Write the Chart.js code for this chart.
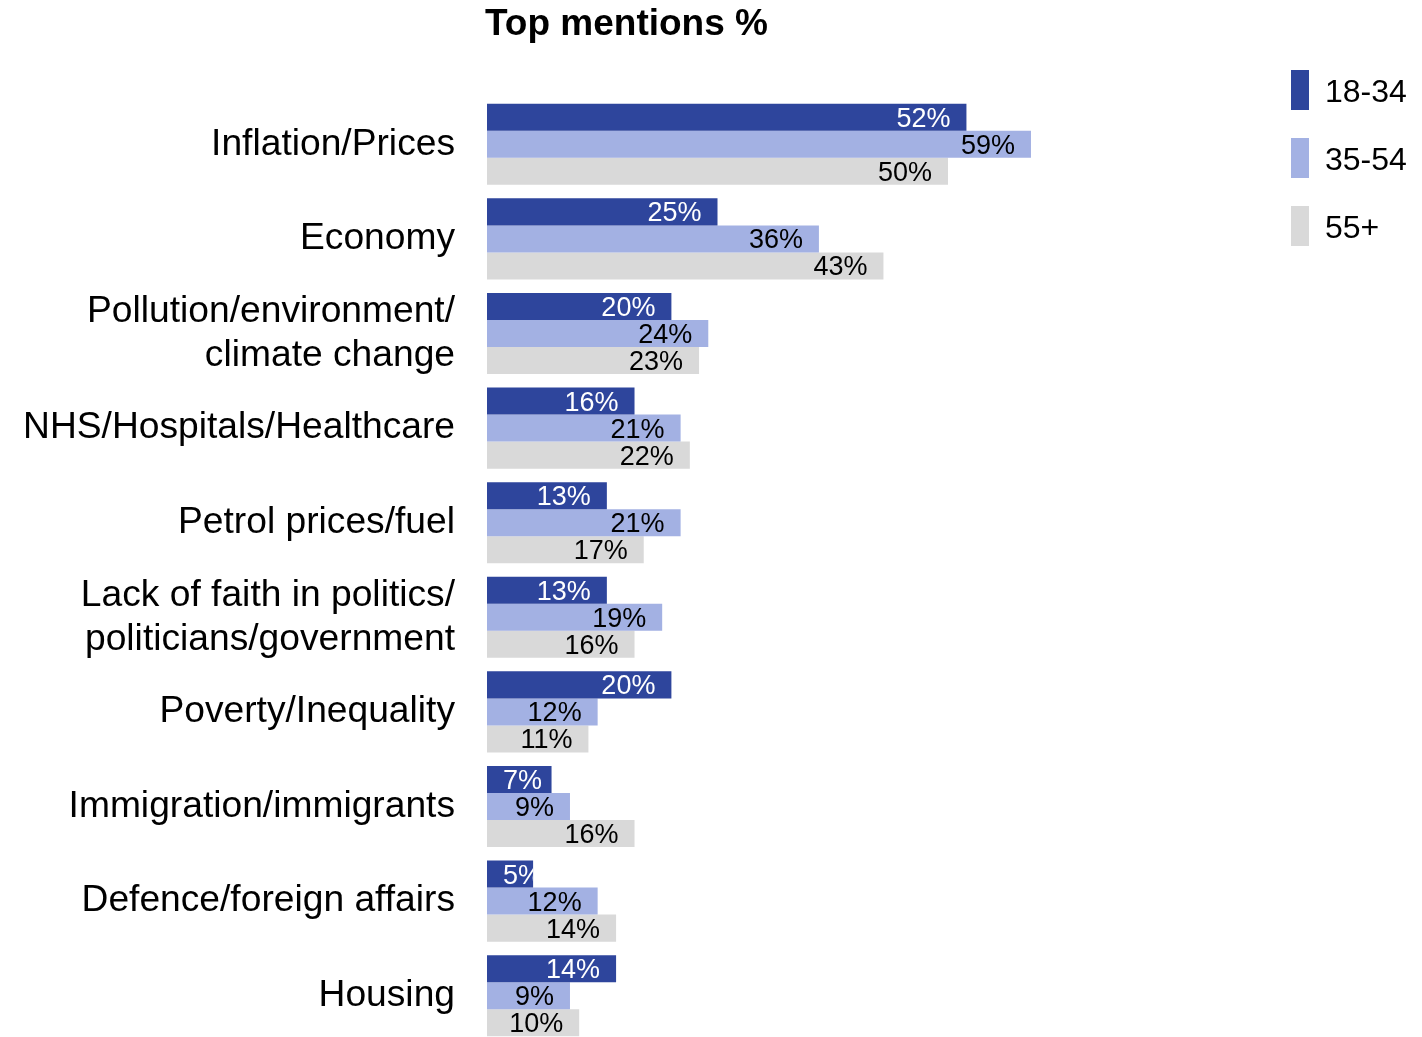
<!DOCTYPE html>
<html>
<head>
<meta charset="utf-8">
<script src="https://cdn.jsdelivr.net/npm/chart.js@4/dist/chart.umd.min.js"></script>
<style>
  html, body { margin: 0; background: #fff; overflow: hidden; height: 1037px; }
</style>
</head>
<body>
<canvas id="myChart" width="1422" height="1043"></canvas>
<script>
const categories = [
    "Inflation/Prices",
    "Economy",
    ["Pollution/environment/", "climate change"],
    "NHS/Hospitals/Healthcare",
    "Petrol prices/fuel",
    ["Lack of faith in politics/", "politicians/government"],
    "Poverty/Inequality",
    "Immigration/immigrants",
    "Defence/foreign affairs",
    "Housing"
];
const seriesNames = ["18-34", "35-54", "55+"];
const young = [52, 25, 20, 16, 13, 13, 20, 7, 5, 14];
const middle = [59, 36, 24, 21, 21, 19, 12, 9, 12, 9];
const older = [50, 43, 23, 22, 17, 16, 11, 16, 14, 10];
const barColors = ["#2E459C", "#A3B1E3", "#D9D9D9"];
const chartTitle = "Top mentions %";

const FONT = "'Liberation Sans', Arial, sans-serif";

// title, legend and value labels drawn by hand
const extras = {
    id: "extras",
    afterDatasetsDraw(chart) {
        const ctx = chart.ctx;
        ctx.save();

        // value labels, clipped to their bar
        ctx.font = "27px " + FONT;
        ctx.textBaseline = "middle";
        ctx.textAlign = "right";
        chart.data.datasets.forEach((ds, i) => {
            const meta = chart.getDatasetMeta(i);
            meta.data.forEach((bar, j) => {
                const txt = ds.data[j] + "%";
                const w = ctx.measureText(txt).width;
                const right = Math.max(bar.x - 16, bar.base + 16 + w);
                ctx.save();
                ctx.beginPath();
                ctx.rect(bar.base, bar.y - bar.height / 2, bar.x - bar.base, bar.height);
                ctx.clip();
                ctx.fillStyle = i === 0 ? "#ffffff" : "#000000";
                ctx.fillText(txt, right, bar.y + 2);
                ctx.restore();
            });
        });

        // title
        ctx.fillStyle = "#000";
        ctx.textAlign = "left";
        ctx.textBaseline = "alphabetic";
        ctx.font = "bold 37px " + FONT;
        ctx.fillText(chartTitle, 485, 35);

        // legend
        ctx.font = "32px " + FONT;
        chart.data.datasets.forEach((ds, i) => {
            const y = 70 + i * 68;
            ctx.fillStyle = ds.backgroundColor;
            ctx.fillRect(1291, y, 18, 40);
            ctx.fillStyle = "#000";
            ctx.fillText(ds.label, 1325, y + 32);
        });

        ctx.restore();
    }
};

new Chart("myChart", {
    type: "bar",
    data: {
        labels: categories,
        datasets: [
            { label: seriesNames[0], data: young, backgroundColor: barColors[0] },
            { label: seriesNames[1], data: middle, backgroundColor: barColors[1] },
            { label: seriesNames[2], data: older, backgroundColor: barColors[2] }
        ]
    },
    options: {
        indexAxis: "y",
        responsive: false,
        animation: false,
        devicePixelRatio: 1,
        layout: {
            padding: { left: 0, right: 13, top: 97, bottom: 0 }
        },
        datasets: {
            bar: {
                barPercentage: 1.0,
                categoryPercentage: 0.857,
                borderWidth: 0
            }
        },
        scales: {
            x: {
                display: false,
                min: 0,
                max: 100
            },
            y: {
                afterFit(scale) {
                    scale.width = 487;
                    scale.paddingTop = 0;
                    scale.paddingBottom = 0;
                },
                grid: { display: false, drawTicks: false },
                border: { display: false },
                ticks: {
                    autoSkip: false,
                    padding: 32,
                    color: "#000",
                    font: { family: FONT, size: 37.2, lineHeight: 1.18 }
                }
            }
        },
        plugins: {
            legend: { display: false },
            title: { display: false },
            tooltip: { enabled: false }
        }
    },
    plugins: [extras]
});
</script>
</body>
</html>
